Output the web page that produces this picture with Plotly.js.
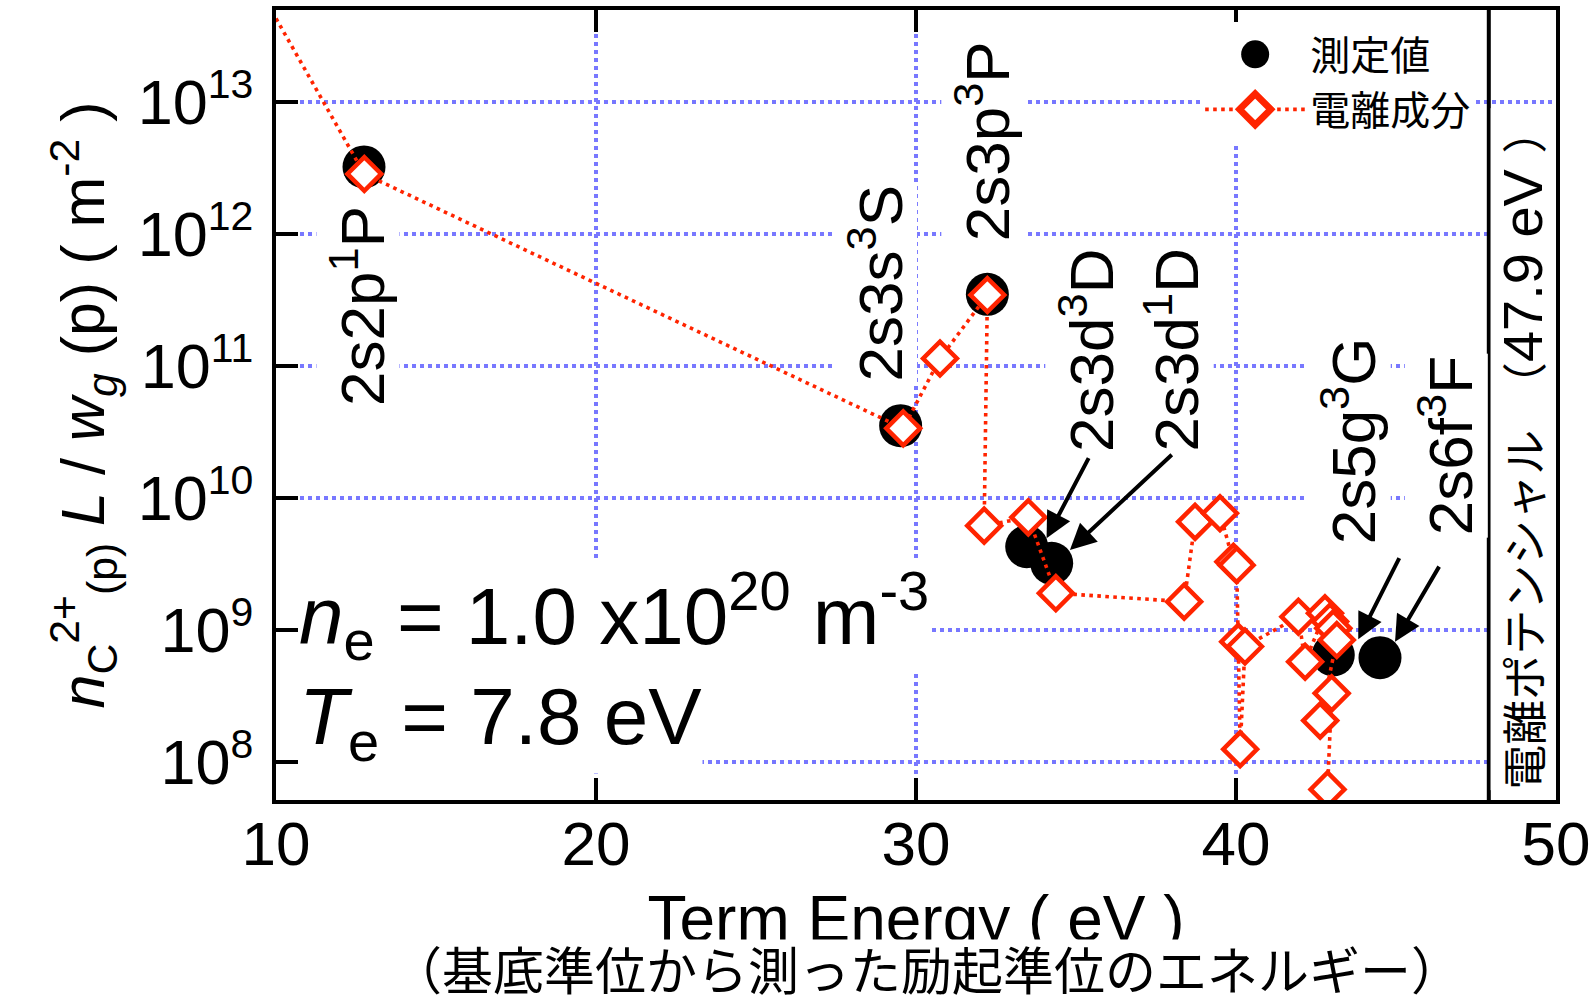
<!DOCTYPE html>
<html>
<head>
<meta charset="utf-8">
<script src="https://cdn.plot.ly/plotly-3.0.1.min.js"></script>
<style>
  html, body { margin: 0; padding: 0; background: #ffffff; }
  #chart { width: 1593px; height: 998px; }
</style>
</head>
<body>
<div id="chart"></div>
<script>
// ---------------- data ----------------
// measured values (測定値)
const measE = [12.75, 29.52, 32.23, 33.46, 34.24, 43.04, 44.50];
const measV = [3.22e12, 3.53e10, 3.49e11, 4.28e9, 3.20e9, 6.47e8, 6.17e8];
const measLabels = ['2s2p<sup>1</sup>P', '2s3s<sup>3</sup>S', '2s3p<sup>3</sup>P',
                    '2s3d<sup>3</sup>D', '2s3d<sup>1</sup>D', '2s5g<sup>3</sup>G', '2s6f<sup>3</sup>F'];

// ionizing component (電離成分), in drawing order
const ionE = [12.76, 29.60, 30.75, 32.23, 32.13, 33.51, 34.37, 38.38, 38.72, 39.50,
              39.92, 40.02, 40.07, 40.13, 40.28, 41.95, 42.16, 42.78, 42.94, 43.04,
              43.15, 42.63, 42.99, 42.86];
const ionV = [2.85e12, 3.37e10, 1.14e11, 3.45e11, 6.17e9, 7.14e9, 1.90e9, 1.64e9, 6.6e9, 7.66e9,
              3.29e9, 3.10e9, 8.15e8, 1.25e8, 7.5e8, 1.26e9, 5.75e8, 1.34e9, 1.16e9, 1.03e9,
              8.4e8, 2.06e8, 3.31e8, 6.2e7];
// leading part of the ionizing-component curve (enters from the left edge)
const leadE = [10.0];
const leadV = [4.3e13];

const ionizationPotential = 47.9;   // eV
const xTickVals = [10, 20, 30, 40, 50];
const yTickExp = [8, 9, 10, 11, 12, 13];

const legendNames = ['測定値', '電離成分'];
const xTitle = 'Term Energy ( eV )';
const xSubTitle = '（基底準位から測った励起準位のエネルギー）';
const yTitle = '<i>n</i><sub>C</sub><sup>2+</sup><sub>(p)</sub> <i>L</i> / <i>w</i><sub><i>g</i></sub> (p) ( m<sup>-2</sup> )';
const neText = '<i>n</i><sub>e</sub> = 1.0 x10<sup>20</sup> m<sup>-3</sup>';
const teText = '<i>T</i><sub>e</sub> = 7.8 eV';
const ipText = '電離ポテンシャル　（<span style="font-size:56px">' + ionizationPotential + ' eV </span>）';

// ---------------- layout helpers (positions, not data) ----------------
// label placement: [x (eV), y (value)] of label centre
const labelPos = [[12.56, 2.85e11], [28.75, 4.22e11], [32.08, 5.0e12],
                  [35.34, 1.32e11], [38.01, 1.32e11], [43.54, 2.7e10], [46.57, 2.48e10]];
// arrows: [tipE, tipV, tailE, tailV]
const arrows = [[34.08, 4.96e9, 35.42, 2.06e10],
                [34.81, 4.04e9, 38.04, 2.18e10],
                [43.82, 8.49e8, 45.125, 3.59e9],
                [44.97, 8.15e8, 46.375, 3.10e9]];

const RED = '#ff2400';
const GRID = 'rgb(120,120,255)';
const FONT = "'Liberation Sans', Arial, 'Noto Sans CJK JP', sans-serif";
const L10 = Math.log10;

const traces = [
  {
    x: measE, y: measV, name: legendNames[0], type: 'scatter', mode: 'markers',
    marker: { symbol: 'circle', size: 43, color: '#000000' }
  },
  {
    x: leadE.concat([ionE[0]]), y: leadV.concat([ionV[0]]), type: 'scatter', mode: 'lines',
    showlegend: false, hoverinfo: 'skip',
    line: { color: RED, width: 3.6, dash: '3.6px,4.4px' }
  },
  {
    x: ionE, y: ionV, name: legendNames[1], type: 'scatter', mode: 'lines+markers',
    line: { color: RED, width: 3.6, dash: '3.6px,4.4px' },
    marker: { symbol: 'diamond', size: 26, color: '#ffffff', line: { color: RED, width: 4.5 } }
  }
];

const annotations = [];
measLabels.forEach((t, i) => {
  annotations.push({
    x: labelPos[i][0], y: L10(labelPos[i][1]), xref: 'x', yref: 'y',
    text: t, textangle: -90, showarrow: false, xanchor: 'center', yanchor: 'middle',
    font: { size: 62, color: '#000', family: FONT }, bgcolor: '#ffffff', borderpad: 2
  });
});
arrows.forEach(a => {
  annotations.push({
    x: a[0], y: L10(a[1]), ax: a[2], ay: L10(a[3]), xref: 'x', yref: 'y', axref: 'x', ayref: 'y',
    text: '', showarrow: true, arrowhead: 2, arrowsize: 1.3, arrowwidth: 4, arrowcolor: '#000',
    standoff: 0, startstandoff: 0
  });
});
annotations.push({
  x: 10.69, y: 9.113, xref: 'x', yref: 'y', xanchor: 'left', yanchor: 'middle',
  text: neText, showarrow: false, font: { size: 80, color: '#000', family: FONT },
  bgcolor: '#ffffff', borderpad: 0
});
annotations.push({
  x: 10.69, y: 8.297, xref: 'x', yref: 'y', xanchor: 'left', yanchor: 'middle',
  text: teText, showarrow: false, font: { size: 80, color: '#000', family: FONT },
  bgcolor: '#ffffff', borderpad: 0
});
annotations.push({
  x: (ionizationPotential + 50) / 2, y: 0.444, xref: 'x', yref: 'paper',
  xanchor: 'center', yanchor: 'middle', textangle: -90,
  text: ipText, showarrow: false, font: { size: 45, color: '#000', family: FONT },
  bgcolor: '#ffffff', borderpad: 0
});
annotations.push({
  x: 0.508, y: -0.218, xref: 'paper', yref: 'paper', xanchor: 'center', yanchor: 'middle',
  text: xSubTitle, showarrow: false, font: { size: 51, color: '#000', family: FONT },
  bgcolor: '#ffffff', borderpad: 4
});

const layout = {
  width: 1593, height: 998,
  margin: { l: 276, r: 37, t: 10, b: 198, pad: 0 },
  paper_bgcolor: '#ffffff', plot_bgcolor: '#ffffff',
  font: { family: FONT, color: '#000' },
  showlegend: true,
  legend: {
    x: 0.722, y: 0.985, xanchor: 'left', yanchor: 'top',
    bgcolor: '#ffffff', borderwidth: 0, itemwidth: 100, tracegroupgap: 0,
    font: { size: 40, family: FONT, color: '#000' }
  },
  xaxis: {
    range: [10, 50], tickvals: xTickVals, ticktext: xTickVals.map(String),
    ticks: 'inside', ticklen: 22, tickwidth: 4, tickcolor: '#000',
    showline: true, linewidth: 4, linecolor: '#000', mirror: 'ticks',
    showgrid: true, gridcolor: GRID, gridwidth: 4, griddash: '4px,4px',
    zeroline: false, tickfont: { size: 62, family: FONT }, ticklabelstandoff: -13,
    title: { text: xTitle, font: { size: 64, family: FONT }, standoff: 20 }
  },
  yaxis: {
    type: 'log', range: [7.712, 13.697],
    tickvals: yTickExp.map(e => Math.pow(10, e)),
    ticktext: yTickExp.map(e => '10<sup><span style="font-size:41px">' + e + '</span></sup>'),
    ticks: 'inside', ticklen: 22, tickwidth: 4, tickcolor: '#000',
    showline: true, linewidth: 4, linecolor: '#000', mirror: true,
    showgrid: true, gridcolor: GRID, gridwidth: 4, griddash: '4px,4px',
    zeroline: false, tickfont: { size: 63, family: FONT }, ticklabelstandoff: 6,
    title: { text: yTitle, font: { size: 61, family: FONT }, standoff: 14 }
  },
  shapes: [{
    type: 'line', xref: 'x', yref: 'paper', x0: ionizationPotential, x1: ionizationPotential,
    y0: 0, y1: 1, line: { color: '#000', width: 4 }, layer: 'above'
  }],
  annotations: annotations
};

const legendSymbolScale = [1.75, 1.5];
Plotly.newPlot('chart', traces, layout, { staticPlot: true }).then(gd => {
  gd.querySelectorAll('.legend .traces').forEach((g, i) => {
    g.querySelectorAll('path.scatterpts').forEach(p => {
      const t = p.getAttribute('transform') || '';
      p.setAttribute('transform', t + ' scale(' + legendSymbolScale[i] + ')');
    });
  });
});
</script>
</body>
</html>
